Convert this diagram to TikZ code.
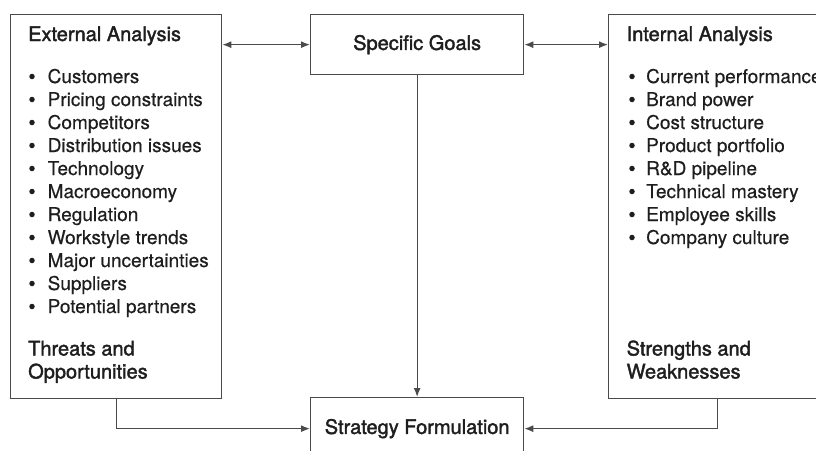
\documentclass[tikz,border=0pt]{standalone}
\usepackage{fontspec}
\setmainfont{TeX Gyre Heros}[FakeBold=0.4]
\newfontfamily\headfont{TeX Gyre Heros}[FakeBold=1.8]
\usepackage{xcolor}
\definecolor{linegray}{HTML}{4a4a4a}
\definecolor{textgray}{HTML}{1e1e1e}
\usetikzlibrary{positioning}
\usetikzlibrary{arrows,arrows.meta}

\begin{document}
\begin{tikzpicture}[x=1pt,y=-1pt,draw=linegray]
	\tikzstyle{box}=[rectangle, draw=linegray, line width=1.3pt, anchor=north west, inner sep=0pt, text=textgray, font=\headfont\fontsize{20}{23}\selectfont]
	\tikzstyle{txt}=[anchor=base west, inner sep=0pt, text=textgray, font=\fontsize{19}{23}\selectfont]
	\tikzstyle{head}=[txt, font=\headfont\fontsize{20}{23}\selectfont]
	\tikzstyle{dot}=[circle, fill=textgray, inner sep=0pt, minimum size=5.5pt]
	\tikzset{>={Latex[length=9pt,width=7pt]}}
	\useasboundingbox (0,0) rectangle (816,450);
	\clip (0,0) rectangle (816,450);
	% boxes
	\node[box, minimum width=211, minimum height=384] (ext) at (10,14) {};
	\node[box, minimum width=213, minimum height=60] (goals) at (310,14) {Specific Goals};
	\node[box, minimum width=218, minimum height=384] (int) at (608,14) {};
	\node[box, minimum width=213, minimum height=62] (strat) at (310,397) {Strategy Formulation};
	% external analysis
	\node[head] (exthead) at (28,41) {External Analysis};
	\foreach \lbl [count=\i] in {Customers, Pricing constraints, Competitors, Distribution issues, Technology, Macroeconomy, Regulation, Workstyle trends, Major uncertainties, Suppliers, Potential partners}{
		\node[dot] (extdot-\i) at (32,{53.5+23*\i}) {};
		\node[txt] (ext-\i) at (47.5,{60+23*\i}) {\lbl};
	}
	\node[head] (threats) at (28,355.5) {Threats and};
	\node[head] (opps) at (28,378.5) {Opportunities};
	% internal analysis
	\node[head] (inthead) at (626.5,41) {Internal Analysis};
	\foreach \lbl [count=\i] in {Current performance, Brand power, Cost structure, Product portfolio, R\&D pipeline, Technical mastery, Employee skills, Company culture}{
		\node[dot] (intdot-\i) at (632,{53.5+23*\i}) {};
		\node[txt] (int-\i) at (646,{60+23*\i}) {\lbl};
	}
	\node[head] (strengths) at (626.5,355.5) {Strengths and};
	\node[head] (weak) at (626.5,378.5) {Weaknesses};
	% connectors
	\path (goals.west -| ext.east) edge[<->, line width=1.3pt] (goals.west);
	\path (goals.east) edge[<->, line width=1.3pt] (goals.east -| int.west);
	\path (goals.south) edge[->, line width=1.3pt] (strat.north);
	\draw[->, line width=1.3pt] (ext.south) |- (strat.west);
	\draw[->, line width=1.3pt] (int.south) |- (strat.east);
\end{tikzpicture}
\end{document}
